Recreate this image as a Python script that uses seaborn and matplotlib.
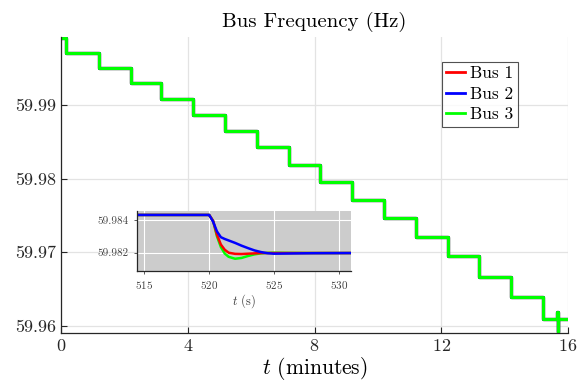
import numpy as np
import pandas as pd
import seaborn as sns
import matplotlib.pyplot as plt
import matplotlib.ticker as ticker

# step times (minutes) and frequency levels (Hz)
step_times = [0.0, 0.15, 1.2, 2.2, 3.16, 4.16, 5.17, 6.17, 7.19, 8.18, 9.19,
              10.19, 11.2, 12.2, 13.2, 14.2, 15.21, 15.66, 15.67, 15.69, 16.0]
step_levels = [59.9990, 59.99699, 59.99500, 59.99293, 59.99072, 59.98861,
               59.98639, 59.98423, 59.98189, 59.97955, 59.97712, 59.97469,
               59.97212, 59.96955, 59.96666, 59.96388, 59.96091, 59.96190,
               59.95920, 59.96091, 59.96091]

# zoomed transient around t = 520 s (inset)
inset_t = [514.0, 519.9, 520.0, 520.3, 520.6, 520.9, 521.2, 521.5, 522.0,
           522.5, 523.0, 523.5, 524.0, 524.5, 525.0, 526.0, 528.0, 531.0]
bus1_inset = [59.98431, 59.98431, 59.98431, 59.98395, 59.98310, 59.98250,
              59.98218, 59.98200, 59.98193, 59.98192, 59.98194, 59.98196,
              59.98198, 59.98198, 59.98198, 59.98198, 59.98198, 59.98198]
bus2_inset = [59.98431, 59.98431, 59.98431, 59.98390, 59.98330, 59.98295,
              59.98284, 59.98275, 59.98260, 59.98243, 59.98228, 59.98214,
              59.98204, 59.98197, 59.98194, 59.98195, 59.98197, 59.98198]
bus3_inset = [59.98431, 59.98431, 59.98431, 59.98395, 59.98300, 59.98235,
              59.98195, 59.98175, 59.98163, 59.98168, 59.98180, 59.98190,
              59.98196, 59.98199, 59.98200, 59.98199, 59.98198, 59.98198]

buses = ["Bus 1", "Bus 2", "Bus 3"]
bus_colors = {"Bus 1": "#ff0000", "Bus 2": "#0000ff", "Bus 3": "#00ff00"}

plt.rcParams["font.family"] = "cmr10"
plt.rcParams["mathtext.fontset"] = "cm"
plt.rcParams["axes.formatter.use_mathtext"] = True
plt.rcParams["axes.unicode_minus"] = False

main_df = pd.concat([pd.DataFrame({"t": step_times, "f": step_levels, "bus": b})
                     for b in buses], ignore_index=True)
inset_df = pd.concat([
	pd.DataFrame({"t": inset_t, "f": bus3_inset, "bus": "Bus 3"}),
	pd.DataFrame({"t": inset_t, "f": bus1_inset, "bus": "Bus 1"}),
	pd.DataFrame({"t": inset_t, "f": bus2_inset, "bus": "Bus 2"}),
], ignore_index=True)

fig = plt.figure(figsize=(5.79, 3.85), dpi=100)
ax = fig.add_axes([0.1054, 0.1351, 0.8757, 0.7688])

sns.lineplot(data=main_df, x="t", y="f", hue="bus", palette=bus_colors,
             estimator=None, sort=False, drawstyle="steps-post",
             linewidth=2.3, ax=ax)

ax.set_xlim(0, 16)
ax.set_ylim(59.95905, 59.99919)
ax.xaxis.set_major_locator(ticker.MultipleLocator(4))
ax.yaxis.set_major_locator(ticker.MultipleLocator(0.01))
ax.yaxis.set_major_formatter(ticker.FormatStrFormatter("%.2f"))
ax.grid(True, color="#e3e3e3", linewidth=0.9)
ax.set_axisbelow(True)
ax.tick_params(direction="in", length=4, width=0.8, labelsize=13, colors="#262626")
for s in ["top", "right"]:
	ax.spines[s].set_visible(False)
for s in ["left", "bottom"]:
	ax.spines[s].set_color("#262626")
	ax.spines[s].set_linewidth(0.9)
ax.set_xlabel(r"$t$ (minutes)", fontsize=15.5, labelpad=1)
ax.set_ylabel("")
ax.set_title("Bus Frequency (Hz)", fontsize=15, pad=7)

leg = ax.legend(loc="upper left", bbox_to_anchor=(0.763, 0.84),
                bbox_transform=fig.transFigure, fontsize=12.5, frameon=True,
                fancybox=False, handlelength=1.1, handletextpad=0.3,
                borderpad=0.25, labelspacing=0.3, borderaxespad=0)
leg.get_frame().set_edgecolor("#262626")
leg.get_frame().set_linewidth(0.8)
for line in leg.get_lines():
	line.set_linewidth(2)

# inset
axin = fig.add_axes([0.2361, 0.2969, 0.3696, 0.155])
axin.set_facecolor("#cccccc")
sns.lineplot(data=inset_df, x="t", y="f", hue="bus", palette=bus_colors,
             estimator=None, sort=False, linewidth=1.8, ax=axin, legend=False)
axin.set_xlim(514.4, 530.93)
axin.set_ylim(59.9809, 59.98455)
axin.xaxis.set_major_locator(ticker.MultipleLocator(5))
axin.yaxis.set_major_locator(ticker.MultipleLocator(0.002))
axin.yaxis.set_major_formatter(ticker.FormatStrFormatter("%.3f"))
axin.grid(True, color="white", linewidth=0.8)
axin.set_axisbelow(True)
axin.tick_params(direction="out", length=2.5, width=0.6, labelsize=8, colors="#404040")
for s in ["top", "right"]:
	axin.spines[s].set_visible(False)
for s in ["left", "bottom"]:
	axin.spines[s].set_color("#262626")
	axin.spines[s].set_linewidth(0.9)
axin.set_xlabel(r"$t$ (s)", fontsize=9, labelpad=1, color="#404040")
axin.set_ylabel("")

plt.savefig("out.png", dpi=100)
